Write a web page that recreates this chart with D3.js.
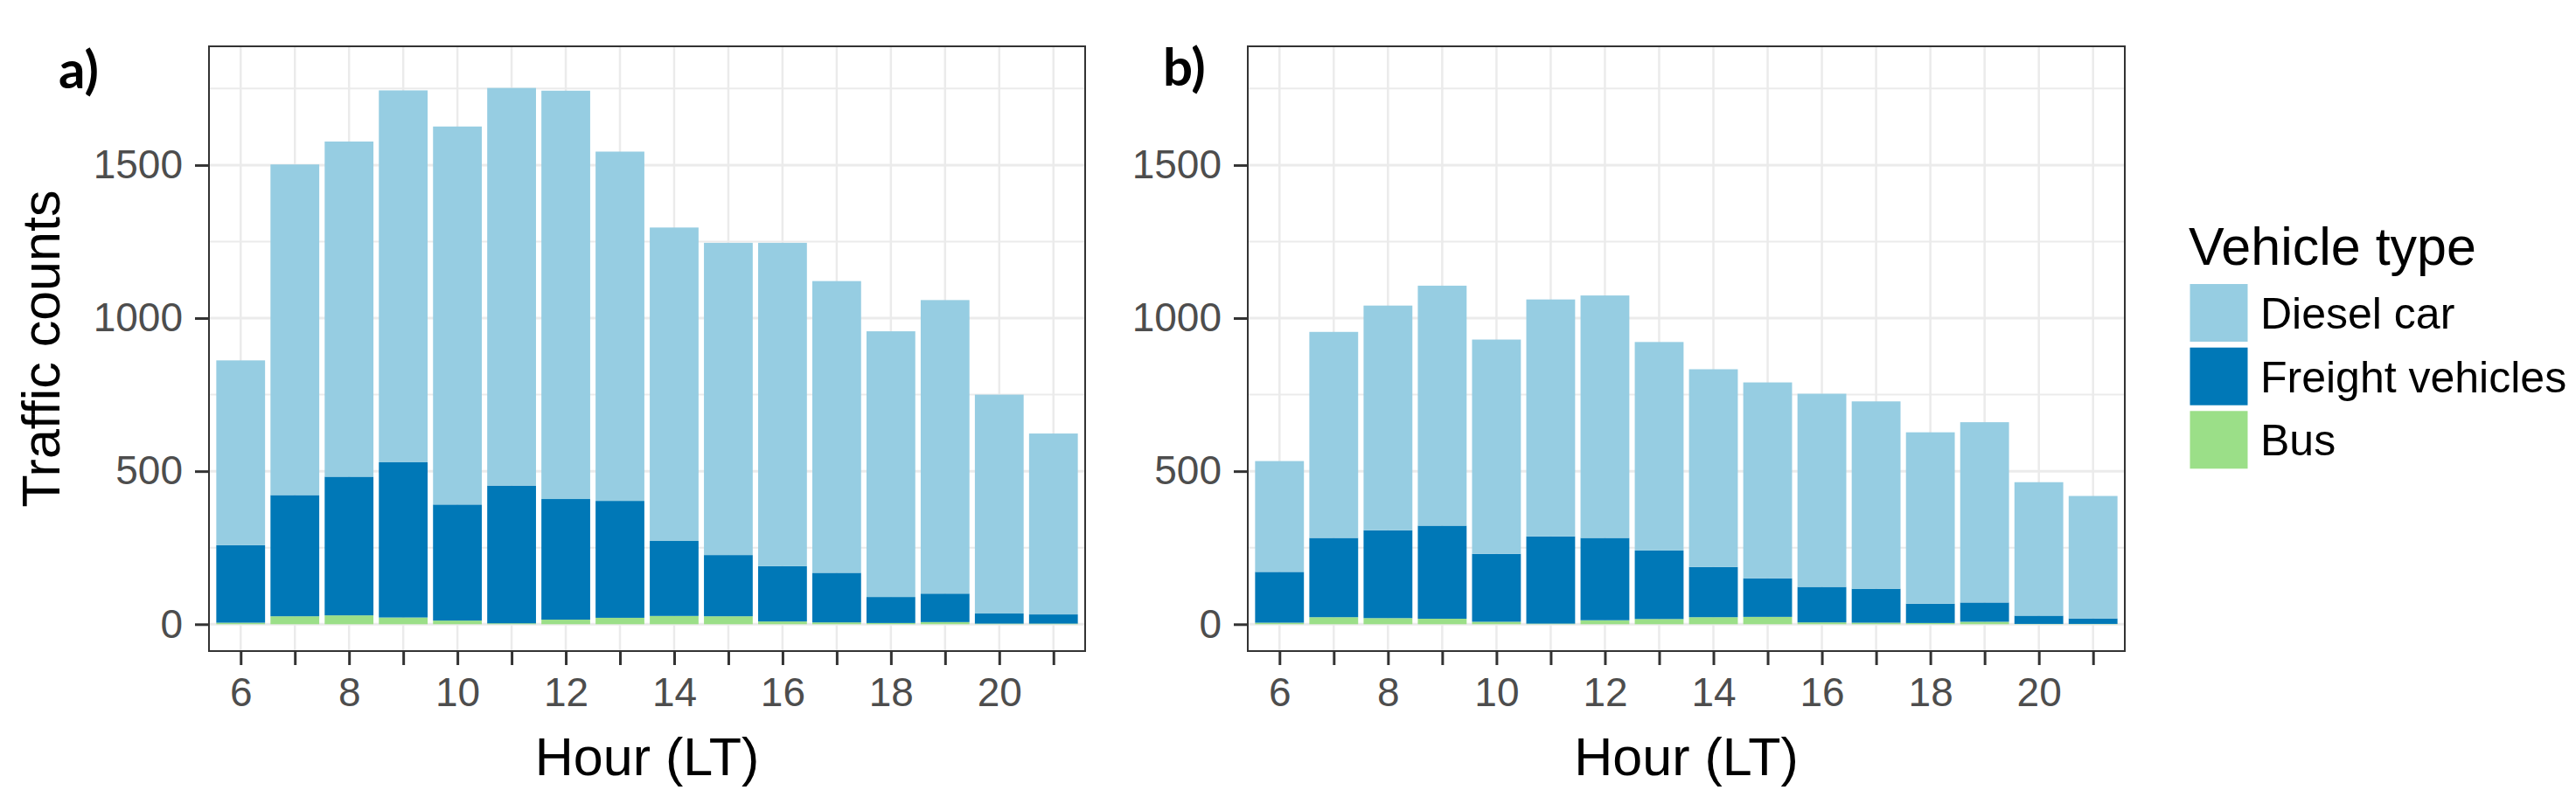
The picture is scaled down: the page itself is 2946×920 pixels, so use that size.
<!DOCTYPE html>
<html>
<head>
<meta charset="utf-8">
<script src="https://cdn.jsdelivr.net/npm/d3@7"></script>
<style>
  html, body { margin: 0; padding: 0; background: #ffffff; }
  svg { display: block; }
</style>
</head>
<body>
<svg id="chart" width="2946" height="920"></svg>
<script>
// ---------- data ----------
const hours = [6, 7, 8, 9, 10, 11, 12, 13, 14, 15, 16, 17, 18, 19, 20, 21];
const xTickLabels = [6, 8, 10, 12, 14, 16, 18, 20];
const yTickLabels = [0, 500, 1000, 1500];
const seriesNames = ["Diesel car", "Freight vehicles", "Bus"];

// panel a)
const dieselA  = [604, 1080, 1095, 1215, 1235, 1299, 1334, 1141, 1024, 1020, 1056, 953, 868, 959, 715, 591];
const freightA = [253, 396, 453, 507, 379, 450, 394, 382, 245, 200, 181, 162, 85, 93, 33, 30];
const busA     = [5, 26, 29, 22, 12, 3, 15, 21, 27, 26, 9, 6, 4, 7, 2, 2];

// panel b)
const dieselB  = [362, 673, 734, 784, 700, 774, 792, 681, 646, 640, 631, 612, 560, 589, 436, 400];
const freightB = [166, 259, 287, 304, 222, 285, 269, 224, 164, 126, 116, 111, 63, 63, 27, 18];
const busB     = [5, 23, 20, 18, 8, 2, 13, 17, 23, 24, 6, 5, 4, 8, 1, 1];

// ---------- styles ----------
const colors = { "Diesel car": "#96cde2", "Freight vehicles": "#0078b7", "Bus": "#9bdf88" };
const tickFont = "'Liberation Sans', Arial, sans-serif";

const svg = d3.select("#chart");

const panelTop = 53, panelBottom = 745;
const panels = [
  { label: "a)", left: 239, right: 1241, diesel: dieselA, freight: freightA, bus: busA, labelX: 67, labelY: 101 },
  { label: "b)", left: 1427, right: 2430, diesel: dieselB, freight: freightB, bus: busB, labelX: 1330, labelY: 98 }
];

panels.forEach(p => {
  const g = svg.append("g");
  const x = d3.scaleLinear().domain([5.415, 21.585]).range([p.left, p.right]);
  const y = d3.scaleLinear().domain([-87.7, 1888]).range([panelBottom, panelTop]);

  // background grid
  const grid = g.append("g");
  const minorY = [250, 750, 1250, 1750];
  grid.selectAll("line.minY").data(minorY).enter().append("line")
    .attr("x1", p.left).attr("x2", p.right)
    .attr("y1", d => y(d)).attr("y2", d => y(d))
    .attr("stroke", "#ebebeb").attr("stroke-width", 2);
  grid.selectAll("line.majY").data(yTickLabels).enter().append("line")
    .attr("x1", p.left).attr("x2", p.right)
    .attr("y1", d => y(d)).attr("y2", d => y(d))
    .attr("stroke", "#ebebeb").attr("stroke-width", 3);
  grid.selectAll("line.gx").data(hours).enter().append("line")
    .attr("x1", d => x(d)).attr("x2", d => x(d))
    .attr("y1", panelTop).attr("y2", panelBottom)
    .attr("stroke", "#ebebeb").attr("stroke-width", 2.5);

  // stacked data
  const rows = hours.map((h, i) => ({
    hour: h,
    "Bus": p.bus[i],
    "Freight vehicles": p.freight[i],
    "Diesel car": p.diesel[i]
  }));
  const stack = d3.stack().keys(["Bus", "Freight vehicles", "Diesel car"]);
  const layers = stack(rows);
  const bw = x(6.45) - x(5.55);

  g.selectAll("g.layer").data(layers).enter().append("g")
    .attr("fill", d => colors[d.key])
    .selectAll("rect").data(d => d).enter().append("rect")
    .attr("x", d => x(d.data.hour) - bw / 2)
    .attr("width", bw)
    .attr("y", d => y(d[1]))
    .attr("height", d => Math.max(0, y(d[0]) - y(d[1])));

  // panel border
  g.append("rect")
    .attr("x", p.left).attr("y", panelTop)
    .attr("width", p.right - p.left).attr("height", panelBottom - panelTop)
    .attr("fill", "none").attr("stroke", "#333333").attr("stroke-width", 2);

  // x axis
  const xAxis = d3.axisBottom(x).tickValues(hours).tickSize(16).tickPadding(14)
    .tickFormat(d => xTickLabels.includes(d) ? String(d) : "");
  const xg = g.append("g").attr("transform", `translate(0,${panelBottom})`).call(xAxis);
  xg.select(".domain").remove();
  xg.selectAll(".tick line").attr("stroke", "#333333").attr("stroke-width", 3);
  xg.selectAll(".tick text").attr("fill", "#4d4d4d")
    .style("font-family", tickFont).style("font-size", "46px");

  // y axis
  const yAxis = d3.axisLeft(y).tickValues(yTickLabels).tickSize(16).tickPadding(14)
    .tickFormat(d3.format("d"));
  const yg = g.append("g").attr("transform", `translate(${p.left},0)`).call(yAxis);
  yg.select(".domain").remove();
  yg.selectAll(".tick line").attr("stroke", "#333333").attr("stroke-width", 3);
  yg.selectAll(".tick text").attr("fill", "#4d4d4d")
    .style("font-family", tickFont).style("font-size", "46px");

  // x title
  g.append("text")
    .attr("x", (p.left + p.right) / 2).attr("y", 887)
    .attr("text-anchor", "middle")
    .style("font-family", tickFont).style("font-size", "61px").attr("fill", "#000")
    .text("Hour (LT)");

  // panel label
  g.append("text")
    .attr("x", p.labelX).attr("y", p.labelY)
    .style("font-family", "Lato, 'Open Sans', sans-serif").style("font-weight", "bold")
    .style("font-size", "60px").attr("fill", "#000")
    .text(p.label);
});

// y title
svg.append("text")
  .attr("transform", `translate(68,${(panelTop + panelBottom) / 2}) rotate(-90)`)
  .attr("text-anchor", "middle")
  .style("font-family", tickFont).style("font-size", "61px").attr("fill", "#000")
  .text("Traffic counts");

// legend
const leg = svg.append("g");
leg.append("text")
  .attr("x", 2503).attr("y", 303)
  .style("font-family", tickFont).style("font-size", "61px").attr("fill", "#000")
  .text("Vehicle type");
const keyY = [325, 397.7, 470.3];
seriesNames.forEach((name, i) => {
  leg.append("rect")
    .attr("x", 2504.5).attr("y", keyY[i])
    .attr("width", 66).attr("height", 66)
    .attr("fill", colors[name]);
  leg.append("text")
    .attr("x", 2585).attr("y", keyY[i] + 33 + 18)
    .style("font-family", tickFont).style("font-size", "50px").attr("fill", "#000")
    .text(name);
});
</script>
</body>
</html>
